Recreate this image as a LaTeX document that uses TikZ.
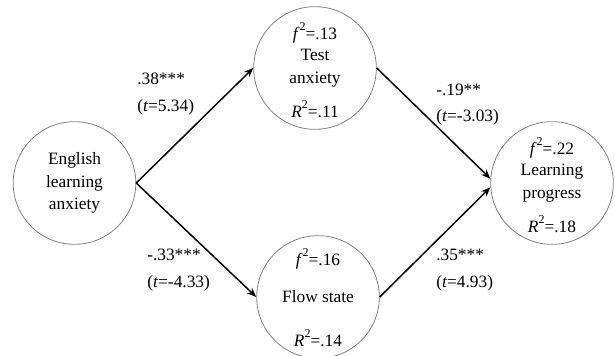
\documentclass[tikz,border=0pt]{standalone}
\usepackage{fontspec}
\setmainfont{Liberation Serif}
\usetikzlibrary{arrows.meta}

\newcommand{\sqd}{\raisebox{0.55em}{\fontsize{9}{9}\selectfont 2}}

\begin{document}
\begin{tikzpicture}[x=0.75pt,y=-0.75pt,font=\fontsize{13}{17}\selectfont,
    >={Stealth[length=7pt,width=5.5pt]},
    construct/.style={circle,draw=black!50,line width=0.6pt,
        minimum size=92pt,inner sep=0pt,align=center},
    stat/.style={inner sep=1pt},
    effect/.style={->,line width=1.1pt},
    coef/.style={anchor=west,align=left,inner sep=0pt,
        font=\fontsize{13}{20}\selectfont}]
    \useasboundingbox (0,0) rectangle (615,356);

    % Constructs: predictor on the left, two mediators stacked in the
    % middle, outcome on the right; effect sizes sit inside each circle.
    \node[construct] (eng) at (74.5,183) {English\\learning\\anxiety};

    \node[construct] (test) at (315,68) {Test\\anxiety};
    \node[stat] (testf) at (315,33) {\textit{f}\sqd=.13};
    \node[stat] (testr) at (315,109) {\textit{R}\sqd=.11};

    \node[construct] (flow) at (318,297) {Flow state};
    \node[stat] (flowf) at (318,259) {\textit{f}\sqd=.16};
    \node[stat] (flowr) at (318,338) {\textit{R}\sqd=.14};

    \node[construct] (learn) at (552,183) {Learning\\progress};
    \node[stat] (learnf) at (552,148) {\textit{f}\sqd=.22};
    \node[stat] (learnr) at (552,224) {\textit{R}\sqd=.18};

    % Paths with their coefficients and t values.
    \draw[effect] (eng.east) -- (test.west);
    \draw[effect] (eng.east) -- (flow.west);
    \draw[effect] (test.east) -- (learn.176);
    \draw[effect] (flow.east) -- (learn.184);

    \node[coef] (engtest) at (137,94) {.38***\\(\textit{t}=5.34)};
    \node[coef] (engflow) at (147,270) {-.33***\\(\textit{t}=-4.33)};
    \node[coef] (testlearn) at (436,104.5) {-.19**\\(\textit{t}=-3.03)};
    \node[coef] (flowlearn) at (436,270) {.35***\\(\textit{t}=4.93)};
\end{tikzpicture}
\end{document}
